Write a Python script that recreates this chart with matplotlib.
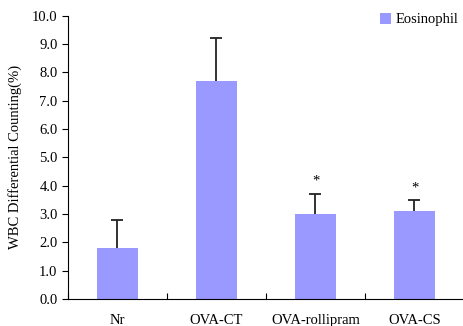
import matplotlib
matplotlib.use("Agg")
import matplotlib.pyplot as plt
import numpy as np

categories = ["Nr", "OVA-CT", "OVA-rollipram", "OVA-CS"]
values = [1.8, 7.7, 3.0, 3.1]
errors = [1.0, 1.5, 0.72, 0.38]
stars = ["", "", "*", "*"]
yticks = [0.0, 1.0, 2.0, 3.0, 4.0, 5.0, 6.0, 7.0, 8.0, 9.0, 10.0]
series_name = "Eosinophil"

plt.rcParams['font.family'] = ['Liberation Serif', 'DejaVu Serif']

fig = plt.figure(figsize=(4.64, 3.26), dpi=100)
ax = fig.add_axes([68/464, 1-299/326, 1-68/464, (299-15.7)/326])

x = np.arange(len(categories))
ax.bar(x, values, width=0.41, color="#9999FF", label=series_name, zorder=2)
eb = ax.errorbar(x, values, yerr=[np.zeros(len(errors)), errors], fmt="none",
                 ecolor="#222222", elinewidth=1.3, capsize=4, capthick=1.3, zorder=3)
eb[1][0].set_visible(False)
for xi, v, e, s in zip(x, values, errors, stars):
    if s:
        ax.text(xi, v + e + 0.22, s, ha="center", va="bottom", fontsize=10.5)

ax.set_xlim(-0.5, len(categories) - 0.5)
ax.set_ylim(0, 10)
ax.set_yticks(yticks)
ax.set_yticklabels([f"{t:.1f}" for t in yticks], fontsize=10.5)
ax.set_xticks(x)
ax.set_xticklabels(categories, fontsize=10.5)
ax.tick_params(axis="x", length=0, pad=11)
ax.set_xticks(np.arange(len(categories) + 1) - 0.5, minor=True)
ax.tick_params(axis="x", which="minor", direction="in", length=4, width=0.8)
ax.tick_params(axis="y", direction="out", length=4, width=0.8)
ax.spines["top"].set_visible(False)
ax.spines["right"].set_visible(False)
ax.set_ylabel("WBC Differential Counting(%)", fontsize=10.5, labelpad=7)

ax.legend(loc="upper right", bbox_to_anchor=(1.0, 1.03), frameon=False, fontsize=10.5,
          handlelength=0.75, handleheight=0.75, handletextpad=0.3, borderaxespad=0)

fig.savefig("out.png", dpi=100)
